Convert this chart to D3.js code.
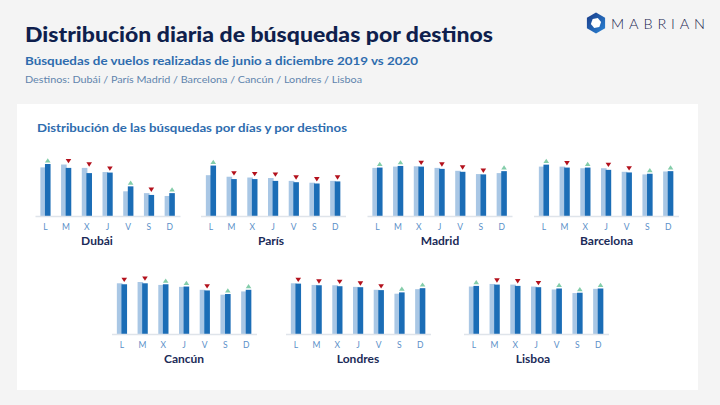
<!DOCTYPE html>
<html><head><meta charset="utf-8">
<script src="https://cdn.jsdelivr.net/npm/d3@7"></script>
<style>body{margin:0;background:#f4f4f4}svg{display:block;font-family:Lato,"Open Sans",sans-serif}</style>
</head><body><svg id="c" width="720" height="405"></svg>
<script>
// Days of week (Lunes..Domingo)
const days = ["L","M","X","J","V","S","D"];
const destinations = ["Dubái","París","Madrid","Barcelona","Cancún","Londres","Lisboa"];
// Share of weekly searches (%) per day, 2019 (light) and 2020 (dark)
const dubai2019     = [18.7,19.8,18.5,16.9, 9.5, 8.8, 7.7];
const dubai2020     = [20.0,18.5,16.5,16.7,11.4, 8.1, 8.8];
const paris2019     = [15.7,15.1,14.8,14.6,13.5,12.8,13.5];
const paris2020     = [19.4,14.2,14.2,13.5,13.0,12.5,13.3];
const madrid2019    = [14.8,15.2,15.3,14.8,13.9,12.9,13.2];
const madrid2020    = [14.9,15.4,15.2,14.5,13.6,12.8,13.8];
const barcelona2019 = [15.2,15.2,14.7,14.7,13.6,12.8,13.7];
const barcelona2020 = [15.8,14.9,14.9,14.2,13.4,13.0,13.8];
const cancun2019    = [15.6,16.0,15.1,14.5,13.6,12.1,13.1];
const cancun2020    = [15.3,15.6,15.3,14.6,13.4,12.3,13.6];
const londres2019   = [15.6,15.1,15.0,14.5,13.6,12.4,13.8];
const londres2020   = [15.5,15.0,14.7,14.4,13.5,12.8,14.1];
const lisboa2019    = [14.6,15.4,15.2,14.6,13.7,12.6,13.9];
const lisboa2020    = [14.8,15.2,14.8,14.4,14.0,12.7,14.0];
const series2019 = [dubai2019,paris2019,madrid2019,barcelona2019,cancun2019,londres2019,lisboa2019];
const series2020 = [dubai2020,paris2020,madrid2020,barcelona2020,cancun2020,londres2020,lisboa2020];
const axisMax = [25,25,20,20,20,20,20];

// layout (positions only)
const layout = [
  {cx:107.5, base:216, tx:97},
  {cx:273,   base:216, tx:271},
  {cx:439.5, base:216, tx:440},
  {cx:606,   base:216, tx:606.5},
  {cx:184,   base:334, tx:184},
  {cx:358,   base:334, tx:358},
  {cx:536,   base:334, tx:533}
];
const plotH = 65, halfW = 72.5;
const C = {light:"#a9c7e5", dark:"#1b6db6", up:"#84cdaa", down:"#b3111c", axis:"#dfe4ea",
           tick:"#5a8fc8", title:"#1b2b58", navy:"#0f1f4d", blue:"#2e6cae", grey:"#6184ad"};

const svg = d3.select("#c");
svg.append("rect").attr("width",720).attr("height",405).attr("fill","#f4f4f4");
svg.append("rect").attr("x",17).attr("y",104).attr("width",681).attr("height",286).attr("fill","#ffffff");

// headings
svg.append("text").attr("x",25).attr("y",42).attr("fill",C.navy).attr("font-weight",900)
  .attr("font-size",20.5).attr("textLength",468).attr("lengthAdjust","spacingAndGlyphs")
  .text("Distribución diaria de búsquedas por destinos");
svg.append("text").attr("x",25).attr("y",65).attr("fill",C.blue).attr("font-weight",700)
  .attr("font-size",11.5).attr("textLength",393).attr("lengthAdjust","spacingAndGlyphs")
  .text("Búsquedas de vuelos realizadas de junio a diciembre 2019 vs 2020");
svg.append("text").attr("x",25).attr("y",83).attr("fill",C.grey)
  .attr("font-size",10).attr("textLength",337).attr("lengthAdjust","spacingAndGlyphs")
  .text("Destinos: " + ["Dubái","París Madrid","Barcelona","Cancún","Londres","Lisboa"].join(" / "));
svg.append("text").attr("x",37).attr("y",132).attr("fill",C.blue).attr("font-weight",700)
  .attr("font-size",11.5).attr("textLength",310).attr("lengthAdjust","spacingAndGlyphs")
  .text("Distribución de las búsquedas por días y por destinos");

// logo
const defs = svg.append("defs");
const g = defs.append("linearGradient").attr("id","lg").attr("x1","0").attr("x2","1").attr("y1","0").attr("y2","1");
g.append("stop").attr("offset","0").attr("stop-color","#1a3a86");
g.append("stop").attr("offset","1").attr("stop-color","#2b86d8");
function hex(cx,cy,r,rot){return d3.range(6).map(i=>{const a=(Math.PI/3)*i+rot;return [cx+r*Math.cos(a),cy+r*Math.sin(a)];});}
const line = d3.line().curve(d3.curveLinearClosed);
svg.append("path").attr("d",line(hex(596,23,10.5,-Math.PI/2))).attr("fill","url(#lg)");
svg.append("path").attr("d",line(hex(596,23,5.2,-Math.PI/2+0.35))).attr("fill","#ffffff");
svg.append("text").attr("x",611).attr("y",28.5).attr("fill","#1b2550").attr("font-size",14.5)
  .attr("font-weight",300).attr("textLength",94).attr("lengthAdjust","spacing").text("MABRIAN");

// small multiples
destinations.forEach((name,i)=>{
  const L = layout[i];
  const x = d3.scaleBand().domain(days).range([L.cx-halfW, L.cx+halfW]);
  const y = d3.scaleLinear().domain([0, axisMax[i]]).range([L.base, L.base-plotH]);
  const gc = svg.append("g");
  const rows = days.map((d,k)=>({d, a:series2019[i][k], b:series2020[i][k]}));
  const cOf = d => x(d)+x.bandwidth()/2;
  gc.selectAll(".l").data(rows).join("rect")
    .attr("x",r=>cOf(r.d)-5).attr("width",5.6)
    .attr("y",r=>y(r.a)).attr("height",r=>L.base-y(r.a)).attr("fill",C.light);
  gc.selectAll(".dk").data(rows).join("rect")
    .attr("x",r=>cOf(r.d)-0.4).attr("width",5.6)
    .attr("y",r=>y(r.b)).attr("height",r=>L.base-y(r.b)).attr("fill",C.dark);
  gc.selectAll(".t").data(rows).join("path")
    .attr("d",r=>{
      const tc = cOf(r.d)+2.4, w=2.8;
      if(r.b>=r.a){const yb=y(r.b)-1.6;return line([[tc-w,yb],[tc+w,yb],[tc,yb-4.2]]);}
      const yb=Math.min(y(r.a),y(r.b))-1.2;return line([[tc-w,yb-4.4],[tc+w,yb-4.4],[tc,yb]]);
    })
    .attr("fill",r=>r.b>=r.a?C.up:C.down);
  const ax = gc.append("g").attr("transform",`translate(0,${L.base})`)
    .call(d3.axisBottom(x).tickSize(0).tickPadding(7.5));
  ax.select(".domain").attr("stroke",C.axis).attr("stroke-width",1.3);
  ax.selectAll("text").attr("fill",C.tick).attr("font-size",8.5).attr("font-family","Lato, sans-serif");
  gc.append("text").attr("x",L.tx).attr("y",L.base+29).attr("text-anchor","middle")
    .attr("fill",C.title).attr("font-weight",700).attr("font-size",12).text(name);
});
</script></body></html>
